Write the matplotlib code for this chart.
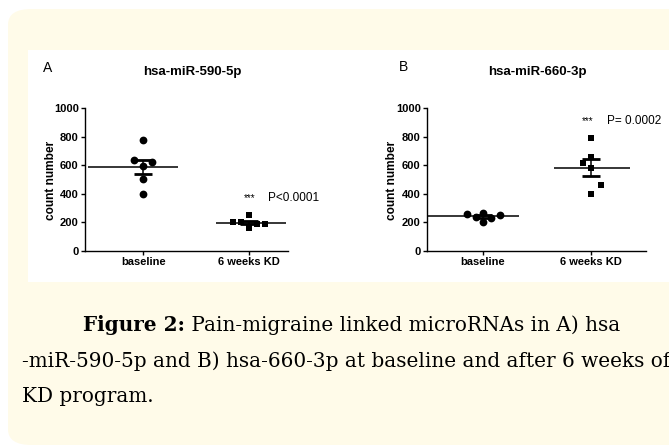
import numpy as np
import matplotlib
matplotlib.use("Agg")
import matplotlib.pyplot as plt
from matplotlib.patches import FancyBboxPatch, Rectangle

plt.rcParams['font.family'] = ['Liberation Sans', 'DejaVu Sans']

groups = ["baseline", "6 weeks KD"]

# hsa-miR-590-5p
a_base = [773, 638, 619, 596, 502, 400]
a_kd = [252, 205, 200, 190, 188, 159]
# hsa-miR-660-3p
b_base = [268, 258, 255, 238, 232, 205]
b_kd = [790, 656, 614, 579, 463, 400]

# horizontal scatter of the dots inside each column
a_base_dx = [0, -0.09, 0.08, 0, 0, 0]
a_kd_dx = [0, -0.15, -0.07, 0.08, 0.15, 0]
b_base_dx = [0, -0.15, 0.16, -0.07, 0.07, 0]
b_kd_dx = [0, 0, -0.07, 0, 0.09, 0]

W, H = 669, 447
fig = plt.figure(figsize=(W / 100, H / 100), dpi=100)

# background: cream rounded box and white chart panel
cream = "#fffbe9"
box = FancyBboxPatch((8 / W, 1 - 445 / H), 700 / W, 436 / H,
                     boxstyle="round,pad=0,rounding_size=0.035",
                     transform=fig.transFigure, facecolor=cream,
                     edgecolor="none", zorder=-3)
fig.patches.append(box)
fig.patches.append(Rectangle((28 / W, 1 - 282 / H), 650 / W, 232 / H,
                             transform=fig.transFigure, facecolor="white",
                             edgecolor="none", zorder=-2))


def panel(rect, xlim, base, kd, base_dx, kd_dx, half_mean):
    ax = fig.add_axes(rect)
    ax.set_facecolor("none")
    for i, (vals, dx, mk, ms) in enumerate([(base, base_dx, "o", 5.6),
                                            (kd, kd_dx, "s", 5.0)]):
        vals = np.array(vals, float)
        m = vals.mean()
        sem = vals.std(ddof=1) / np.sqrt(len(vals))
        ax.plot(i + np.array(dx), vals, mk, color="black", ms=ms,
                mew=0, zorder=3, clip_on=False)
        ax.hlines(m, i - half_mean[i][0], i + half_mean[i][1],
                  color="black", lw=1.1, zorder=4)
        ax.errorbar(i, m, yerr=sem, fmt="none", ecolor="black",
                    elinewidth=1.1, capsize=6.5, capthick=2.0, zorder=4)
    ax.set_xlim(*xlim)
    ax.set_ylim(0, 1000)
    ax.set_yticks([0, 200, 400, 600, 800, 1000])
    ax.set_xticks([0, 1])
    ax.set_xticklabels(groups, fontsize=8, fontweight="bold")
    for lab in ax.get_yticklabels():
        lab.set_fontsize(8)
        lab.set_fontweight("bold")
    ax.spines["top"].set_visible(False)
    ax.spines["right"].set_visible(False)
    for s in ("left", "bottom"):
        ax.spines[s].set_linewidth(1.0)
    ax.tick_params(direction="out", length=3, width=1.0, pad=1.5)
    return ax


axA = panel([85 / W, 1 - 251 / H, 203 / W, 143 / H], (-0.55, 1.37),
            a_base, a_kd, a_base_dx, a_kd_dx, [(0.52, 0.33), (0.31, 0.35)])
axB = panel([427 / W, 1 - 251 / H, 219 / W, 143 / H], (-0.52, 1.51),
            b_base, b_kd, b_base_dx, b_kd_dx, [(0.52, 0.33), (0.34, 0.36)])

# panel titles, letters, y labels
fig.text(192 / W, 1 - 72 / H, "hsa-miR-590-5p", ha="center", va="center",
         fontsize=9.5, fontweight="bold")
fig.text(537 / W, 1 - 72 / H, "hsa-miR-660-3p", ha="center", va="center",
         fontsize=9.5, fontweight="bold")
fig.text(48 / W, 1 - 68 / H, "A", ha="center", va="center", fontsize=10)
fig.text(403 / W, 1 - 67 / H, "B", ha="center", va="center", fontsize=10)
fig.text(51 / W, 1 - 180 / H, "count number", rotation=90, ha="center",
         va="center", fontsize=8.6, fontweight="bold")
fig.text(392 / W, 1 - 180 / H, "count number", rotation=90, ha="center",
         va="center", fontsize=8.6, fontweight="bold")

# significance
fig.text(250 / W, 1 - 198 / H, "***", ha="center", va="center", fontsize=7)
fig.text(268 / W, 1 - 198 / H, "P<0.0001", ha="left", va="center", fontsize=8.5)
fig.text(588 / W, 1 - 121 / H, "***", ha="center", va="center", fontsize=7)
fig.text(607 / W, 1 - 121 / H, "P= 0.0002", ha="left", va="center", fontsize=8.5)

# caption
cap_font = ['DejaVu Serif']
cap_size = 14.4
renderer = fig.canvas.get_renderer()
t_bold = fig.text(0, 1 - 325 / H, "Figure 2:", ha="left", va="center",
                  fontsize=cap_size, family=cap_font, fontweight="bold")
t_rest = fig.text(0, 1 - 325 / H, " Pain-migraine linked microRNAs in A) hsa",
                  ha="left", va="center", fontsize=cap_size, family=cap_font)
wb = t_bold.get_window_extent(renderer).width
wr = t_rest.get_window_extent(renderer).width
x0 = 352 - (wb + wr) / 2
t_bold.set_x(x0 / W)
t_rest.set_x((x0 + wb) / W)
fig.text(22 / W, 1 - 361 / H,
         "-miR-590-5p and B) hsa-660-3p at baseline and after 6 weeks of",
         ha="left", va="center", fontsize=cap_size, family=cap_font)
fig.text(22 / W, 1 - 397 / H, "KD program.", ha="left", va="center",
         fontsize=cap_size, family=cap_font)

fig.savefig("out.png", dpi=100, facecolor="white")
